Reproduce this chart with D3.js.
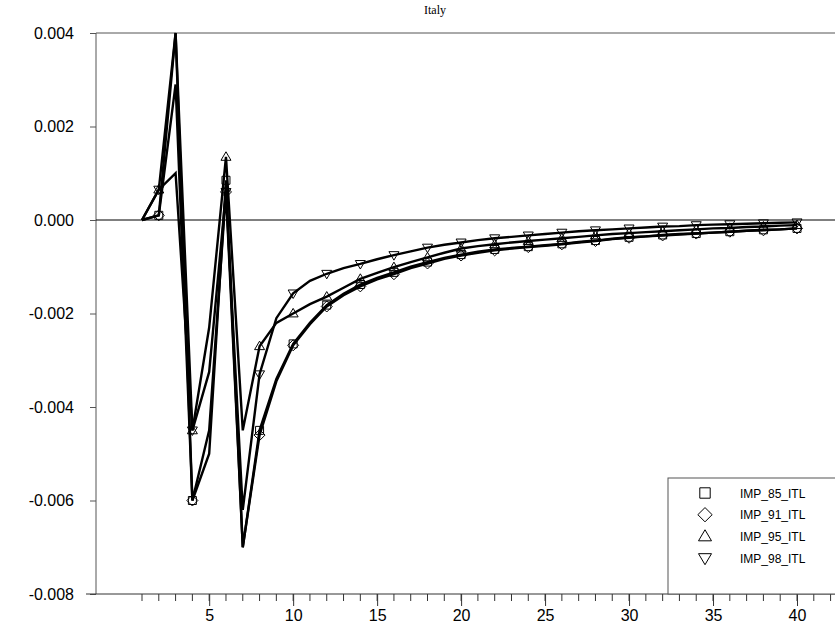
<!DOCTYPE html>
<html>
<head>
<meta charset="utf-8">
<script src="https://cdn.jsdelivr.net/npm/d3@7"></script>
<style>
  body { margin: 0; background: #fff; }
  svg { display: block; }
</style>
</head>
<body>
<svg id="chart" width="835" height="630"></svg>
<script>
// Impulse responses for Italy, periods 1..40
const periods = d3.range(1, 41);

const imp85 = [0, 0.0001, 0.0029, -0.006, -0.005, 0.00085, -0.007, -0.0045, -0.0034, -0.00265,
  -0.0022, -0.00182, -0.00158, -0.00138, -0.00124, -0.00112, -0.001, -0.0009, -0.00081, -0.00074,
  -0.00068, -0.00063, -0.0006, -0.00057, -0.00054, -0.00051, -0.00047, -0.00044, -0.0004, -0.00037,
  -0.00035, -0.00032, -0.0003, -0.00029, -0.00027, -0.00025, -0.00023, -0.00021, -0.0002, -0.00018];

const imp91 = [0, 0.0001, 0.004, -0.006, -0.0045, 0.0006, -0.007, -0.0046, -0.00345, -0.00268,
  -0.00223, -0.00185, -0.00161, -0.00142, -0.00127, -0.00116, -0.00103, -0.00093, -0.00083, -0.00076,
  -0.0007, -0.00065, -0.00061, -0.00058, -0.00055, -0.00052, -0.00048, -0.00045, -0.00041, -0.00038,
  -0.00035, -0.00033, -0.00031, -0.00029, -0.00027, -0.00025, -0.00023, -0.00022, -0.0002, -0.00018];

const imp95 = [0, 0.00065, 0.001, -0.0045, -0.0023, 0.00135, -0.0045, -0.0027, -0.0022, -0.002,
  -0.0018, -0.00164, -0.00145, -0.00126, -0.00113, -0.00101, -0.0009, -0.0008, -0.0007, -0.00061,
  -0.00056, -0.00052, -0.00048, -0.00045, -0.00042, -0.00039, -0.00036, -0.00033, -0.0003, -0.00028,
  -0.00026, -0.00024, -0.00022, -0.0002, -0.00018, -0.00017, -0.00015, -0.00014, -0.00012, -0.00011];

const imp98 = [0, 0.00065, 0.004, -0.0045, -0.00325, 0.0006, -0.0062, -0.0033, -0.0021, -0.00157,
  -0.0013, -0.00115, -0.00103, -0.00094, -0.00084, -0.00075, -0.00067, -0.00059, -0.00053, -0.00048,
  -0.00043, -0.00039, -0.00036, -0.00033, -0.0003, -0.00027, -0.00024, -0.00022, -0.0002, -0.00018,
  -0.00016, -0.00014, -0.00013, -0.00011, -0.0001, -0.00009, -0.00008, -0.00007, -0.00006, -0.00005];

const seriesNames = ["IMP_85_ITL", "IMP_91_ITL", "IMP_95_ITL", "IMP_98_ITL"];
const seriesValues = [imp85, imp91, imp95, imp98];
const seriesSymbols = ["square", "diamond", "triUp", "triDown"];

const yTicks = [-0.008, -0.006, -0.004, -0.002, 0, 0.002, 0.004];
const xTicks = [5, 10, 15, 20, 25, 30, 35, 40];
const xMinorTicks = d3.range(1, 43);

const svg = d3.select("#chart");
const W = 835, H = 630;
const plotLeft = 96, plotTop = 33, plotBottom = 594, plotRight = W;

const x = d3.scaleLinear().domain([1, 40]).range([142, 797]);
const y = d3.scaleLinear().domain([-0.008, 0.004]).range([plotBottom, plotTop]);

const fmt = v => d3.format(".3f")(v).replace("\u2212", "-");

// Title
svg.append("text")
  .attr("x", 435).attr("y", 14)
  .attr("text-anchor", "middle")
  .attr("font-family", "Liberation Serif, Times New Roman, serif")
  .attr("font-size", 12)
  .text("Italy");

// Y axis
const yAxis = svg.append("g")
  .attr("transform", `translate(${plotLeft},0)`)
  .call(d3.axisLeft(y).tickValues(yTicks).tickFormat(fmt).tickSize(6).tickPadding(16));
yAxis.select(".domain").attr("stroke", "#555").attr("d", `M0,${plotTop}V${plotBottom}`);
yAxis.selectAll(".tick line").attr("stroke", "#555");
yAxis.selectAll(".tick text")
  .attr("font-family", "Liberation Sans, Arial, sans-serif")
  .attr("font-size", 16).attr("fill", "#000");

// Top border line
svg.append("line")
  .attr("x1", plotLeft).attr("x2", plotRight)
  .attr("y1", plotTop).attr("y2", plotTop)
  .attr("stroke", "#555");

// X axis: minor ticks on every period, labelled major ticks every 5
const xAxisG = svg.append("g").attr("transform", `translate(0,${plotBottom})`);
xAxisG.append("line")
  .attr("x1", plotLeft - 10).attr("x2", plotRight)
  .attr("stroke", "#333");
xAxisG.selectAll("line.minor")
  .data(xMinorTicks)
  .join("line")
  .attr("class", "minor")
  .attr("x1", d => x(d)).attr("x2", d => x(d))
  .attr("y1", 0).attr("y2", 7)
  .attr("stroke", "#333");
const xAxis = xAxisG.append("g")
  .call(d3.axisBottom(x).tickValues(xTicks).tickFormat(d3.format("d")).tickSize(12).tickPadding(4));
xAxis.select(".domain").remove();
xAxis.selectAll(".tick line").attr("stroke", "#333");
xAxis.selectAll(".tick text")
  .attr("font-family", "Liberation Sans, Arial, sans-serif")
  .attr("font-size", 16).attr("fill", "#000");

// Zero reference line
svg.append("line")
  .attr("x1", plotLeft).attr("x2", plotRight)
  .attr("y1", y(0)).attr("y2", y(0))
  .attr("stroke", "#000").attr("stroke-width", 1);

// Clip region
svg.append("clipPath").attr("id", "plotClip")
  .append("rect")
  .attr("x", plotLeft).attr("y", plotTop - 1)
  .attr("width", plotRight - plotLeft).attr("height", plotBottom - plotTop + 1);

const plot = svg.append("g").attr("clip-path", "url(#plotClip)");

const line = d3.line()
  .x((d, i) => x(periods[i]))
  .y(d => y(d));

// Lines
seriesValues.forEach(vals => {
  plot.append("path")
    .datum(vals)
    .attr("fill", "none")
    .attr("stroke", "#000")
    .attr("stroke-width", 2.4)
    .attr("stroke-linejoin", "miter")
    .attr("d", line);
});

// Marker shapes
function markerPath(sym, size) {
  if (sym === "triUp") {
    const h = size * 0.85, w = size;
    return `M0,${-h * 0.6}L${w / 2},${h * 0.4}L${-w / 2},${h * 0.4}Z`;
  }
  if (sym === "triDown") {
    const h = size * 0.85, w = size;
    return `M0,${h * 0.6}L${w / 2},${-h * 0.4}L${-w / 2},${-h * 0.4}Z`;
  }
  if (sym === "square") {
    const s = size * 0.8;
    return `M${-s / 2},${-s / 2}H${s / 2}V${s / 2}H${-s / 2}Z`;
  }
  const r = size * 0.55;
  return `M0,${-r}L${r},0L0,${r}L${-r},0Z`;
}

// Markers on every second period
seriesValues.forEach((vals, si) => {
  const pts = periods.map((p, i) => ({ p, v: vals[i] })).filter(d => d.p % 2 === 0);
  plot.selectAll(null)
    .data(pts)
    .join("path")
    .attr("transform", d => `translate(${x(d.p)},${y(d.v)})`)
    .attr("d", markerPath(seriesSymbols[si], 10))
    .attr("fill", "none")
    .attr("stroke", "#000")
    .attr("stroke-width", 1);
});

// Legend
const legend = svg.append("g");
legend.append("rect")
  .attr("x", 668).attr("y", 478)
  .attr("width", 200).attr("height", plotBottom - 478)
  .attr("fill", "#fff").attr("stroke", "#555");
seriesNames.forEach((name, i) => {
  const ly = 493 + i * 21.7;
  legend.append("path")
    .attr("transform", `translate(705,${ly})`)
    .attr("d", markerPath(seriesSymbols[i], 13))
    .attr("fill", "none").attr("stroke", "#000").attr("stroke-width", 1);
  legend.append("text")
    .attr("x", 740).attr("y", ly + 4.5)
    .attr("font-family", "Liberation Sans, Arial, sans-serif")
    .attr("font-size", 12)
    .text(name);
});
</script>
</body>
</html>
